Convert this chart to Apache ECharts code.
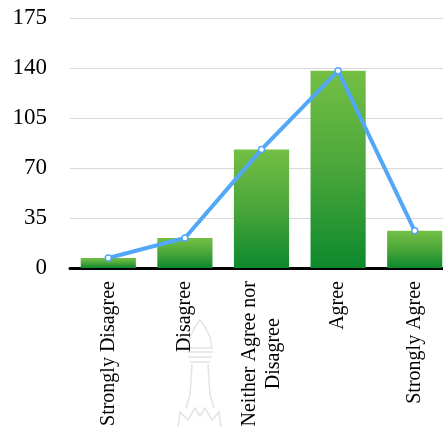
<!DOCTYPE html>
<html>
<head>
<meta charset="utf-8">
<script src="https://cdn.jsdelivr.net/npm/echarts@6/dist/echarts.min.js"></script>
<style>
  html, body { margin: 0; padding: 0; background: #ffffff; }
  #chart { width: 443px; height: 427px; }
</style>
</head>
<body>
<div id="chart"></div>
<script>
// Survey responses per answer
const categories = ['Strongly Disagree', 'Disagree', 'Neither Agree nor\nDisagree', 'Agree', 'Strongly Agree'];
const counts = [7, 21, 83, 138, 26];
const trend = [7, 21, 83, 138, 26];
const yTicks = [0, 35, 70, 105, 140, 175];

const chart = echarts.init(document.getElementById('chart'), null, { renderer: 'canvas' });

const serif = '"Liberation Serif", "Times New Roman", serif';

// faint background emblem outline
const emblemStyle = { fill: null, stroke: '#e3e3e3', lineWidth: 1.5 };
const emblemLines = [
  [[188, 348], [190, 337], [195, 327], [200, 320], [205, 327], [210, 337], [212, 348], [188, 348]],
  [[187, 352], [213, 352]],
  [[188, 357], [212, 357]],
  [[190, 362], [210, 362]],
  [[192, 364], [191, 380], [190, 395], [186, 408]],
  [[208, 364], [209, 380], [210, 395], [214, 408]],
  [[178, 427], [180, 412], [188, 420], [195, 408], [200, 416], [205, 408], [212, 420], [219, 412], [221, 427]]
];

chart.setOption({
  animation: false,
  backgroundColor: '#ffffff',
  grid: { left: 70, width: 383, top: 18, bottom: 159, containLabel: false, outerBoundsMode: 'none' },
  xAxis: {
    type: 'category',
    data: categories,
    axisLine: { show: true, lineStyle: { color: '#000000', width: 3 } },
    axisTick: { show: false },
    axisLabel: {
      rotate: 90,
      margin: 13,
      interval: 0,
      color: '#000000',
      fontFamily: serif,
      fontSize: 20,
      lineHeight: 24,
      formatter: function (v) {
        return v.split('\n').map(function (s) { return '{c|' + s + '}'; }).join('\n');
      },
      rich: {
        c: { align: 'center', fontFamily: serif, fontSize: 20, lineHeight: 24, color: '#000000' }
      }
    }
  },
  yAxis: {
    type: 'value',
    min: yTicks[0],
    max: yTicks[yTicks.length - 1],
    interval: yTicks[1] - yTicks[0],
    axisLine: { show: false },
    axisTick: { show: false },
    splitLine: { lineStyle: { color: '#d9d9d9', width: 1 } },
    axisLabel: {
      margin: 23,
      color: '#000000',
      fontFamily: serif,
      fontSize: 23
    }
  },
  series: [
    {
      type: 'bar',
      data: counts,
      barCategoryGap: '28%',
      itemStyle: {
        color: new echarts.graphic.LinearGradient(0, 0, 0, 1, [
          { offset: 0, color: '#74bf44' },
          { offset: 0.5, color: '#4aa63a' },
          { offset: 1, color: '#0d892d' }
        ])
      }
    },
    {
      type: 'line',
      data: trend,
      symbol: 'circle',
      symbolSize: 6,
      lineStyle: { color: '#52a7f6', width: 4 },
      itemStyle: { color: '#ffffff', borderColor: '#52a7f6', borderWidth: 1.5 },
      z: 5
    }
  ],
  graphic: emblemLines.map(function (pts) {
    return { type: 'polyline', silent: true, z: -10, shape: { points: pts }, style: emblemStyle };
  })
});
</script>
</body>
</html>
